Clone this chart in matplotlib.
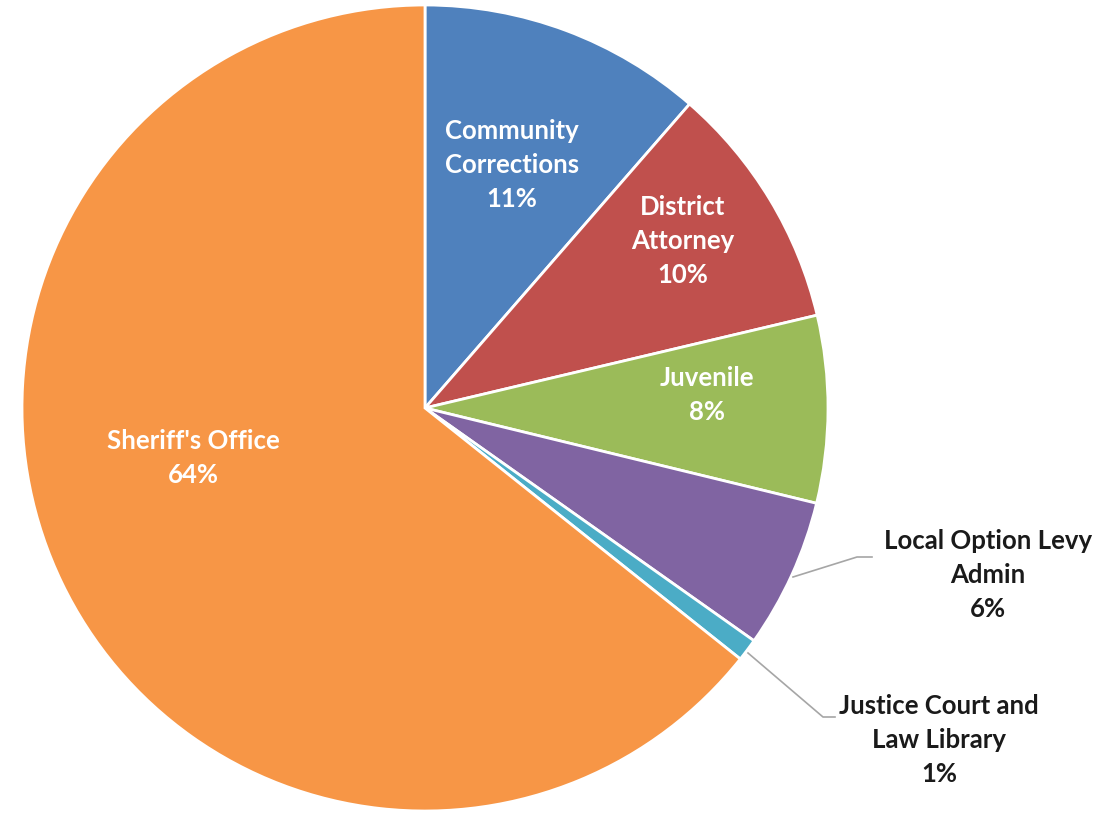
import matplotlib
matplotlib.use("Agg")
import matplotlib.pyplot as plt

labels = ["Community\nCorrections", "District\nAttorney", "Juvenile",
          "Local Option Levy\nAdmin", "Justice Court and\nLaw Library", "Sheriff's Office"]
shares = [11.4, 9.9, 7.5, 6.0, 0.9, 64.3]
colors = ["#4F81BD", "#C0504D", "#9BBB59", "#8064A2", "#4BACC6", "#F79646"]

W, H = 1107, 813
CX, CY, R = 425, 408, 403


def px(x, y):
    # pixel position -> data coords (pie radius = 1)
    return (x - CX) / R, (CY - y) / R


fig = plt.figure(figsize=(W / 100, H / 100), dpi=100)
ax = fig.add_axes([0, 0, 1, 1])
ax.pie(shares, colors=colors, startangle=90, counterclock=False,
       wedgeprops=dict(edgecolor="white", linewidth=2))
ax.set_xlim(px(0, 0)[0], px(W, 0)[0])
ax.set_ylim(px(0, H)[1], px(0, 0)[1])
ax.set_aspect("auto")
ax.axis("off")

font = dict(family=["Lato", "DejaVu Sans"], fontweight="bold", fontsize=18.5,
            ha="center", va="center", linespacing=1.52)

# label positions (pixels) and colours
spots = [(512, 165, "white"), (683, 241, "white"), (707, 395, "white"),
         (988, 575, "#1a1a1a"), (939, 740, "#1a1a1a"), (193, 458, "white")]
for lab, val, (x, y, c) in zip(labels, shares, spots):
    ax.text(*px(x, y), f"{lab}\n{round(val):.0f}%", color=c, **font)

# leader lines for the small outside labels
for pts in ([(793, 577), (857, 557), (872, 557)],
            [(748, 653), (823, 717), (835, 717)]):
    xs, ys = zip(*[px(*p) for p in pts])
    ax.plot(xs, ys, color="#A6A6A6", lw=1.2)

fig.savefig("out.png", dpi=100)
